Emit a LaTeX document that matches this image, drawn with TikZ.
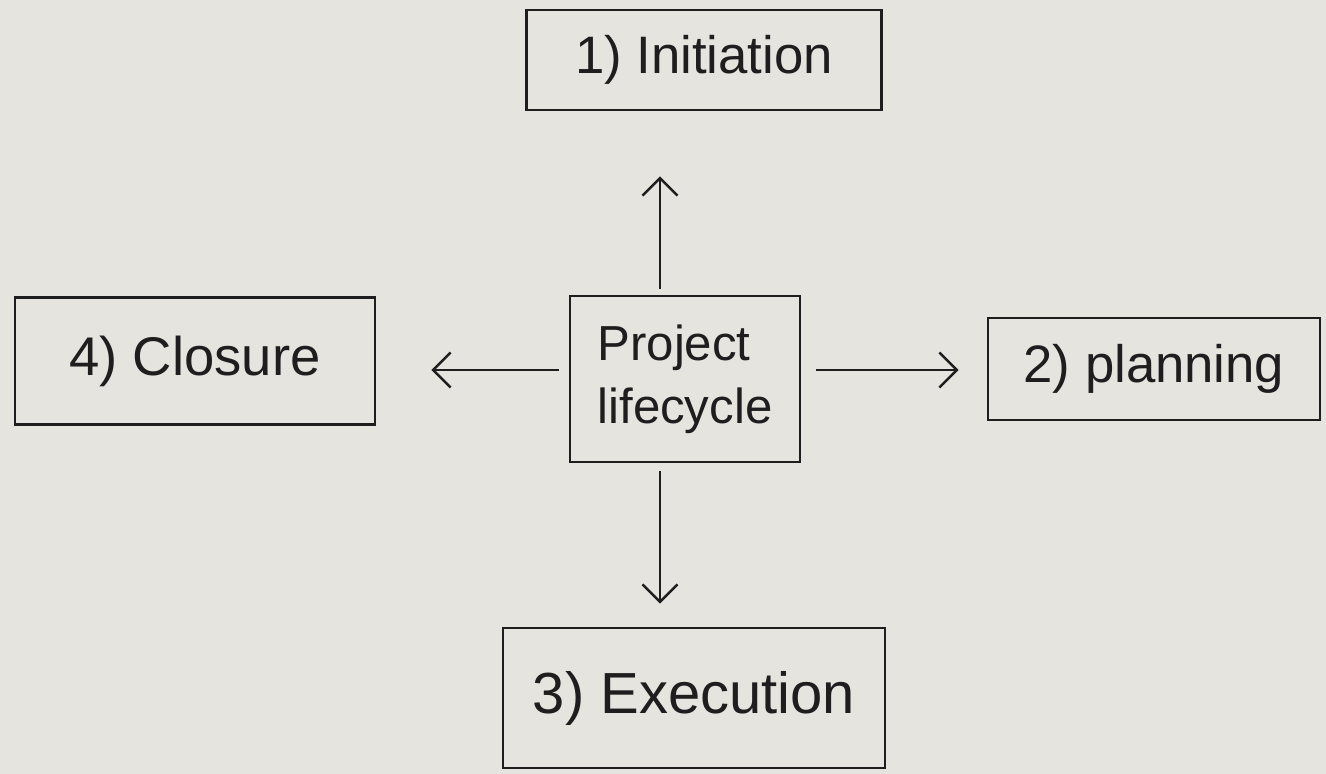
\documentclass[tikz,border=0pt]{standalone}
\usepackage{fontspec}
\setmainfont{Liberation Sans}
\usetikzlibrary{arrows.meta}
\definecolor{paper}{HTML}{E6E4DF}
\definecolor{ink}{HTML}{1E1E1E}
\tikzset{
  px/.style={x=0.02cm,y=-0.02cm},
  box/.style={draw=ink, line width=1.6pt, inner sep=0pt, text=ink},
  arr/.style={draw=ink, line width=1.4pt, -{Straight Barb[length=0.35cm,width=0.7cm,line width=1.4pt]}}
}
\begin{document}
\begin{tikzpicture}[px]
\fill[paper] (0,0) rectangle (1326,774);
\useasboundingbox (0,0) rectangle (1326,774);
\node[box, minimum width=7.1cm, minimum height=2.0cm, font=\fontsize{30}{34}\selectfont] (init) at (704,60) {1) Initiation};
\node[box, minimum width=7.2cm, minimum height=2.54cm, font=\fontsize{31}{35}\selectfont] (clos) at (195,361) {4) Closure};
\node[box, minimum width=4.6cm, minimum height=3.32cm, align=left, font=\fontsize{28}{36}\selectfont] (life) at (685,379) {Project\\lifecycle};
\node[box, minimum width=6.64cm, minimum height=2.04cm, font=\fontsize{30}{34}\selectfont] (plan) at (1154,369) {2) planning};
\node[box, minimum width=7.64cm, minimum height=2.8cm, font=\fontsize{33}{38}\selectfont] (exec) at (694,698) {3) Execution};
\coordinate (vx) at (660,0);
\coordinate (hy) at (0,370);
\draw[arr, shorten <=0.12cm, shorten >=1.3cm] (life.north -| vx) -- (init.south -| vx);
\draw[arr, shorten <=0.2cm, shorten >=1.1cm] (life.west |- hy) -- (clos.east |- hy);
\draw[arr, shorten <=0.3cm, shorten >=0.56cm] (life.east |- hy) -- (plan.west |- hy);
\draw[arr, shorten <=0.16cm, shorten >=0.46cm] (life.south -| vx) -- (exec.north -| vx);
\end{tikzpicture}
\end{document}
